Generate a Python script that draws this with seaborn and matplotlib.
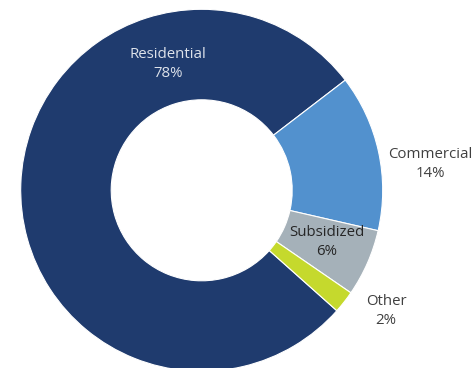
import matplotlib
matplotlib.use("Agg")
import matplotlib.pyplot as plt
import seaborn as sns

categories = ["Residential", "Commercial", "Subsidized", "Other"]
shares = [78, 14, 6, 2]
colors = ["#1F3B6E", "#5291CE", "#A5B1B9", "#C5D92D"]

sns.set_theme(style="white")
plt.rcParams["font.family"] = ["Open Sans", "DejaVu Sans"]

fig = plt.figure(figsize=(4.73, 3.68), dpi=100)
ax = fig.add_axes([0, 0, 1, 1])

cx, cy, r = 201.7, 177.7, 181
wedges, _ = ax.pie(
    shares, colors=colors, startangle=-41.7, counterclock=False,
    center=(cx, cy), radius=r, frame=True,
    wedgeprops=dict(width=r * 0.5, edgecolor="white", linewidth=0.8),
)
ax.set_xlim(0, 473)
ax.set_ylim(0, 368)
ax.set_aspect("equal")
ax.axis("off")

# label positions (figure pixels from top-left) and colours
label_pos = {
    "Residential": (168, 64),
    "Commercial": (430, 164),
    "Subsidized": (327, 242),
    "Other": (386, 311),
}
label_col = {
    "Residential": "#DDE2EA",
    "Commercial": "#404040",
    "Subsidized": "#262626",
    "Other": "#404040",
}
for name, val in zip(categories, shares):
    x, y = label_pos[name]
    ax.text(x, 368 - y, f"{name}\n{val}%", ha="center", va="center",
            fontsize=10.8, color=label_col[name], linespacing=1.35)

fig.savefig("out.png", dpi=100)
